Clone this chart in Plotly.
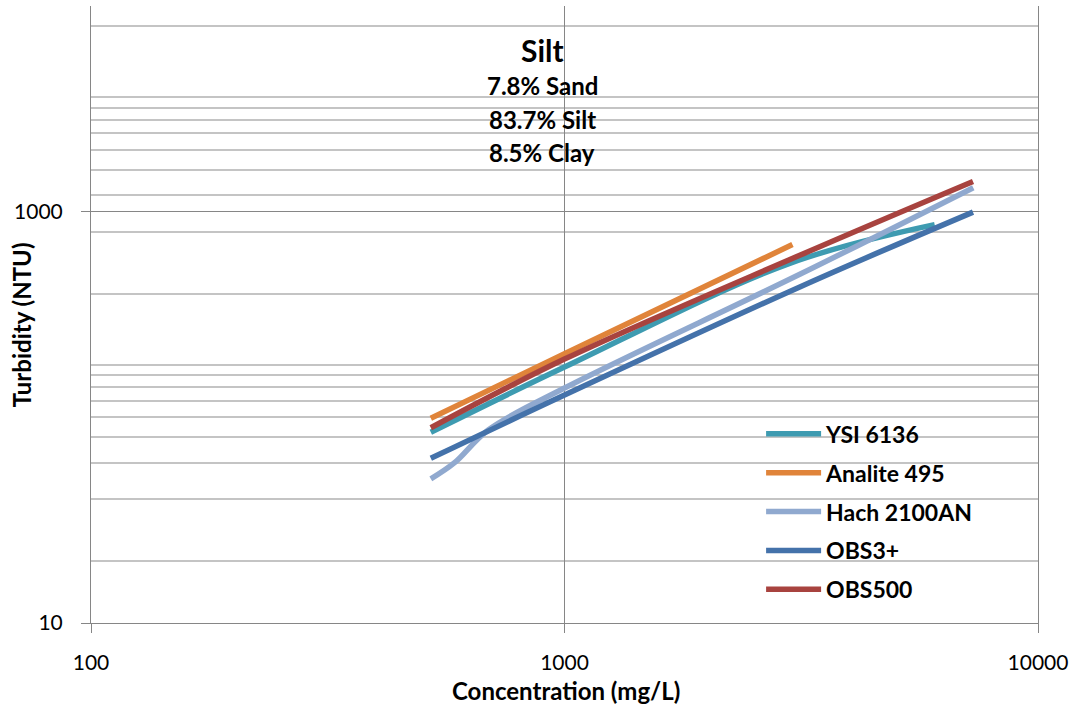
import plotly.graph_objects as go

# Turbidity response of five sensors to a silt-dominated sediment
series_names = ["YSI 6136", "Analite 495", "Hach 2100AN", "OBS3+", "OBS500"]
series_colors = ["#3E9BB1", "#E0843A", "#90A9CF", "#4472AA", "#A8433F"]

ysi_conc = [522, 1000, 2990, 6050]
ysi_ntu = [84.6, 175.5, 561, 865]

analite_conc = [522, 1000, 3030]
analite_ntu = [99, 204, 692]

hach_conc = [522, 585, 690, 1000, 3140, 7300]
hach_ntu = [50.2, 60.0, 86.8, 138.8, 496, 1308]

obs3_conc = [522, 1000, 3140, 7290]
obs3_ntu = [63.2, 128.3, 430.5, 995]

obs500_conc = [522, 1000, 3140, 7290]
obs500_ntu = [89, 192, 614, 1403]

x_ticks = [100, 1000, 10000]
y_ticks = [10, 1000]
y_minor_grid = [20, 40, 60, 80, 100, 120, 140, 160, 180, 400, 800,
                1200, 1600, 2000, 2400, 2800, 3200, 3600, 8000, 10000]

sample_lines = ["Silt", "7.8% Sand", "83.7% Silt", "8.5% Clay"]

FONT = "Lato"
AXIS_GREY = "#868686"
GRID_GREY = "#C4C4C4"

data = [
    (ysi_conc, ysi_ntu),
    (analite_conc, analite_ntu),
    (hach_conc, hach_ntu),
    (obs3_conc, obs3_ntu),
    (obs500_conc, obs500_ntu),
]

fig = go.Figure()
for i, ((xs, ys), name, color) in enumerate(zip(data, series_names, series_colors)):
    fig.add_trace(go.Scatter(
        x=xs, y=ys, name=f"<b>{name}</b>", mode="lines",
        line=dict(color=color, width=5.5, shape="spline", smoothing=1.0),
        legendgroup=f"g{i}",
    ))

fig.update_xaxes(
    type="log", range=[2, 4],
    tickmode="array", tickvals=x_ticks, ticktext=[str(v) for v in x_ticks],
    showgrid=True, gridcolor=AXIS_GREY, gridwidth=1,
    showline=True, linecolor=AXIS_GREY, linewidth=1,
    ticks="outside", ticklen=9, tickcolor=AXIS_GREY, tickwidth=1,
    tickfont=dict(family=FONT, size=21, color="black"),
    ticklabelstandoff=12,
    zeroline=False,
)
fig.update_yaxes(
    type="log", range=[1, 4],
    tickmode="array", tickvals=y_ticks, ticktext=[str(v) for v in y_ticks],
    showgrid=True, gridcolor=AXIS_GREY, gridwidth=1,
    showline=True, linecolor=AXIS_GREY, linewidth=1, mirror=True,
    ticks="outside", ticklen=9, tickcolor=AXIS_GREY, tickwidth=1,
    tickfont=dict(family=FONT, size=21, color="black"),
    ticklabelstandoff=14,
    minor=dict(tickmode="array", tickvals=y_minor_grid, showgrid=True,
               gridcolor=GRID_GREY, gridwidth=1.5, ticks=""),
    zeroline=False,
)

# composition block near the top centre
ann_y = [0.9283, 0.8719, 0.8166, 0.7633]
ann_size = [30, 24, 24, 24]
for text, yy, sz in zip(sample_lines, ann_y, ann_size):
    fig.add_annotation(
        text=f"<b>{text}</b>", x=0.4763, y=yy, xref="paper", yref="paper",
        showarrow=False, xanchor="center", yanchor="middle",
        font=dict(family=FONT, size=sz, color="black"),
    )

# axis titles
fig.add_annotation(
    text="<b>Concentration (mg/L)</b>", x=0.5016, y=-0.1096,
    xref="paper", yref="paper", showarrow=False,
    xanchor="center", yanchor="middle",
    font=dict(family=FONT, size=24, color="black"),
)
fig.add_annotation(
    text="<b>Turbidity (NTU)</b>", x=-0.0725, y=0.483,
    xref="paper", yref="paper", showarrow=False, textangle=-90,
    xanchor="center", yanchor="middle",
    font=dict(family=FONT, size=24, color="black"),
)

fig.update_layout(
    width=1078, height=708,
    margin=dict(l=91, r=40, t=6, b=85),
    paper_bgcolor="white", plot_bgcolor="white",
    showlegend=True,
    legend=dict(
        x=0.7076, y=0.3415, xanchor="left", yanchor="top",
        bgcolor="rgba(0,0,0,0)", borderwidth=0,
        font=dict(family=FONT, size=23, color="black"),
        tracegroupgap=6, itemwidth=55,
        traceorder="grouped",
    ),
)

fig.write_html("out.html")
